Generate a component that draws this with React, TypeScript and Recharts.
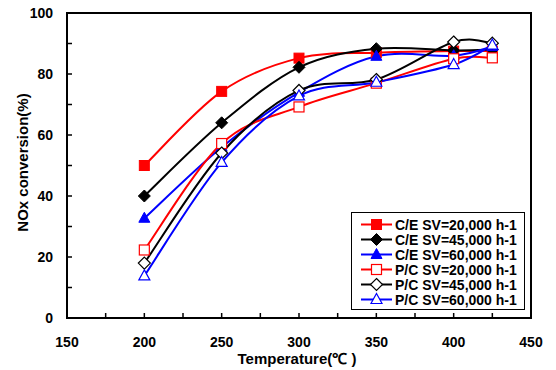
import React from 'react';
import { LineChart, Line, XAxis, YAxis, Legend, ReferenceArea } from 'recharts';

// temperatures (°C) and NOx conversion (%)
const temps = [200, 250, 300, 350, 400, 425];
const ce20 = [50, 74.3, 85.2, 87, 87.5, 87.5];
const ce45 = [40, 64, 82.2, 88.3, 87.7, 88];
const ce60 = [32.7, 56, 74, 85.8, 86, 89];
const pc20 = [22.3, 57.2, 69.2, 77, 85, 85.3];
const pc45 = [18, 54.1, 74.6, 78.2, 90.5, 90.1];
const pc60 = [13.8, 51, 72.8, 77.3, 83.1, 89.5];

const xTicks = [150, 175, 200, 225, 250, 275, 300, 325, 350, 375, 400, 425, 450];
const yTicks = [0, 10, 20, 30, 40, 50, 60, 70, 80, 90, 100];

const FONT = 'Arial, "Liberation Sans", sans-serif';

type Shape = 'square' | 'diamond' | 'triangle';

const series: Array<{ key: string; name: string; color: string; shape: Shape; open: boolean }> = [
  { key: 'ce20', name: 'C/E SV=20,000 h-1', color: '#FF0000', shape: 'square', open: false },
  { key: 'ce45', name: 'C/E SV=45,000 h-1', color: '#000000', shape: 'diamond', open: false },
  { key: 'ce60', name: 'C/E SV=60,000 h-1', color: '#0000FF', shape: 'triangle', open: false },
  { key: 'pc20', name: 'P/C SV=20,000 h-1', color: '#FF0000', shape: 'square', open: true },
  { key: 'pc45', name: 'P/C SV=45,000 h-1', color: '#000000', shape: 'diamond', open: true },
  { key: 'pc60', name: 'P/C SV=60,000 h-1', color: '#0000FF', shape: 'triangle', open: true },
];

const data = temps.map((t, i) => ({
  t,
  ce20: ce20[i],
  ce45: ce45[i],
  ce60: ce60[i],
  pc20: pc20[i],
  pc45: pc45[i],
  pc60: pc60[i],
}));

// Excel-style smoothed line (Catmull-Rom through the points)
const smooth = (context: any) => {
  let pts: [number, number][] = [];
  return {
    areaStart() {},
    areaEnd() {},
    lineStart() {
      pts = [];
    },
    point(x: number, y: number) {
      pts.push([x, y]);
    },
    lineEnd() {
      if (!pts.length) return;
      context.moveTo(pts[0][0], pts[0][1]);
      for (let i = 0; i < pts.length - 1; i++) {
        const p0 = pts[i - 1] || pts[i];
        const p1 = pts[i];
        const p2 = pts[i + 1];
        const p3 = pts[i + 2] || p2;
        context.bezierCurveTo(
          p1[0] + (p2[0] - p0[0]) / 6,
          p1[1] + (p2[1] - p0[1]) / 6,
          p2[0] - (p3[0] - p1[0]) / 6,
          p2[1] - (p3[1] - p1[1]) / 6,
          p2[0],
          p2[1]
        );
      }
    },
  };
};

function Marker({ cx, cy, shape, color, open }: { cx: number; cy: number; shape: Shape; color: string; open: boolean }) {
  const fill = open ? '#fff' : color;
  const sw = open ? 1.2 : 1;
  if (shape === 'square') {
    return <rect x={cx - 5} y={cy - 5} width={10} height={10} fill={fill} stroke={color} strokeWidth={sw} />;
  }
  if (shape === 'diamond') {
    const pts = `${cx},${cy - 6} ${cx + 6},${cy} ${cx},${cy + 6} ${cx - 6},${cy}`;
    return <polygon points={pts} fill={fill} stroke={color} strokeWidth={sw} />;
  }
  const pts = `${cx},${cy - 6} ${cx + 5.5},${cy + 4} ${cx - 5.5},${cy + 4}`;
  return <polygon points={pts} fill={fill} stroke={color} strokeWidth={sw} />;
}

const XTick = ({ x, y, payload }: any) => {
  const major = payload.value % 50 === 0;
  return (
    <g>
      <line x1={x} x2={x} y1={y} y2={y - 5} stroke="#000" strokeWidth={1.5} />
      {major && (
        <text x={x} y={y + 29} textAnchor="middle" fontSize={14} fontWeight="bold" fontFamily={FONT} fill="#000">
          {payload.value}
        </text>
      )}
    </g>
  );
};

const YTick = ({ x, y, payload }: any) => {
  const major = payload.value % 20 === 0;
  return (
    <g>
      <line x1={x} x2={x + 5} y1={y} y2={y} stroke="#000" strokeWidth={1.5} />
      {major && (
        <text x={x - 14} y={y + 5} textAnchor="end" fontSize={14} fontWeight="bold" fontFamily={FONT} fill="#000">
          {payload.value}
        </text>
      )}
    </g>
  );
};

function LegendBox() {
  return (
    <svg width={174} height={98} style={{ display: 'block' }}>
      <rect x={0.5} y={0.5} width={173} height={97} fill="#fff" stroke="#000" strokeWidth={1} />
      {series.map((s, i) => {
        const cy = 12.5 + i * 15;
        return (
          <g key={s.key}>
            <line x1={10} x2={41} y1={cy} y2={cy} stroke={s.color} strokeWidth={2} />
            <Marker cx={25.5} cy={cy} shape={s.shape} color={s.color} open={s.open} />
            <text x={44} y={cy + 5} fontSize={14} fontWeight="bold" fontFamily={FONT} fill="#000">
              {s.name}
            </text>
          </g>
        );
      })}
    </svg>
  );
}

export default function App() {
  return (
    <div style={{ position: 'absolute', left: 0, top: 0, width: 556, height: 370, background: '#fff' }}>
      <LineChart width={556} height={370} data={data} margin={{ top: 13, right: 25, left: 7, bottom: 7 }}>
        <XAxis
          dataKey="t"
          type="number"
          domain={[150, 450]}
          ticks={xTicks}
          interval={0}
          height={45}
          tickSize={0}
          tickMargin={0}
          tickLine={false}
          axisLine={{ stroke: '#000', strokeWidth: 2 }}
          tick={<XTick />}
          label={{
            content: ({ viewBox }: any) => (
              <text
                x={viewBox.x + viewBox.width / 2 - 2}
                y={viewBox.y + 46}
                textAnchor="middle"
                fontSize={15}
                fontWeight="bold"
                fontFamily={FONT}
                fill="#000"
              >
                Temperature(℃ )
              </text>
            ),
          }}
        />
        <YAxis
          type="number"
          domain={[0, 100]}
          ticks={yTicks}
          interval={0}
          width={60}
          tickSize={0}
          tickMargin={0}
          tickLine={false}
          axisLine={{ stroke: '#000', strokeWidth: 2 }}
          tick={<YTick />}
          label={{
            content: ({ viewBox }: any) => {
              const cx = viewBox.x + 15;
              const cy = viewBox.y + viewBox.height / 2 - 3;
              return (
                <text
                  x={cx}
                  y={cy}
                  transform={`rotate(-90 ${cx} ${cy})`}
                  textAnchor="middle"
                  dominantBaseline="central"
                  fontSize={15}
                  fontWeight="bold"
                  fontFamily={FONT}
                  fill="#000"
                >
                  NOx conversion(%)
                </text>
              );
            },
          }}
        />
        <ReferenceArea x1={150} x2={450} y1={0} y2={100} fill="none" stroke="#000" strokeWidth={2} />
        <Legend
          layout="vertical"
          align="center"
          verticalAlign="middle"
          content={() => <LegendBox />}
          wrapperStyle={{ left: 351, top: 212, width: 174, height: 98 }}
        />
        {series.map((s) => (
          <Line
            key={s.key}
            dataKey={s.key}
            name={s.name}
            type={smooth as any}
            stroke={s.color}
            strokeWidth={2}
            isAnimationActive={false}
            activeDot={false}
            dot={(p: any) => (
              <Marker key={`${s.key}-${p.index}`} cx={p.cx} cy={p.cy} shape={s.shape} color={s.color} open={s.open} />
            )}
          />
        ))}
      </LineChart>
    </div>
  );
}
